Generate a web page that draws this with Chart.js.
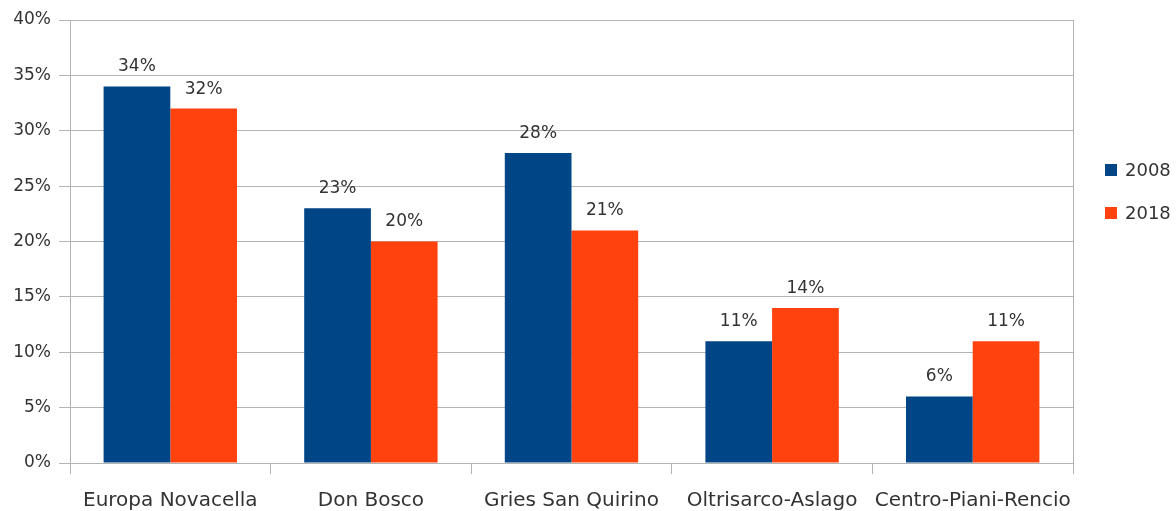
<!DOCTYPE html>
<html>
<head>
<meta charset="utf-8">
<script src="https://cdn.jsdelivr.net/npm/chart.js@4/dist/chart.umd.min.js"></script>
<style>
  html, body { margin: 0; padding: 0; background: #fff; }
  #wrap { width: 1176px; height: 511px; }
</style>
</head>
<body>
<div id="wrap"><canvas id="c" width="1176" height="511"></canvas></div>
<script>
const categories = ["Europa Novacella", "Don Bosco", "Gries San Quirino", "Oltrisarco-Aslago", "Centro-Piani-Rencio"];
const values2008 = [34, 23, 28, 11, 6];
const values2018 = [32, 20, 21, 14, 11];
const seriesNames = ["2008", "2018"];
const yTicks = [0, 5, 10, 15, 20, 25, 30, 35, 40];

const FONT = "'DejaVu Sans', sans-serif";
const TEXT = '#333333';
const GRID = '#b3b3b3';
const colors = ['#004586', '#ff420e'];

const labelPlugin = {
  id: 'valueLabels',
  afterDatasetsDraw(chart) {
    const ctx = chart.ctx;
    ctx.save();
    ctx.font = '17px ' + FONT;
    ctx.fillStyle = TEXT;
    ctx.textAlign = 'center';
    ctx.textBaseline = 'bottom';
    chart.data.datasets.forEach((ds, i) => {
      const meta = chart.getDatasetMeta(i);
      meta.data.forEach((bar, j) => {
        ctx.fillText(ds.data[j] + '%', bar.x, bar.y - 11);
      });
    });
    ctx.restore();
  }
};

const framePlugin = {
  id: 'frame',
  afterDraw(chart) {
    const ctx = chart.ctx, a = chart.chartArea;
    ctx.save();
    ctx.strokeStyle = GRID;
    ctx.lineWidth = 1;
    ctx.beginPath();
    ctx.moveTo(Math.round(a.right) + 0.5, a.top);
    ctx.lineTo(Math.round(a.right) + 0.5, a.bottom + 11);
    ctx.stroke();
    // legend
    ctx.font = '18px ' + FONT;
    ctx.textAlign = 'left';
    ctx.textBaseline = 'middle';
    const ys = [170, 213];
    seriesNames.forEach((n, i) => {
      ctx.fillStyle = colors[i];
      ctx.fillRect(1105, ys[i] - 6, 12, 12);
      ctx.fillStyle = TEXT;
      ctx.fillText(n, 1125, ys[i] + 1);
    });
    ctx.restore();
  }
};

new Chart(document.getElementById('c'), {
  type: 'bar',
  data: {
    labels: categories,
    datasets: [
      { label: seriesNames[0], data: values2008, backgroundColor: colors[0] },
      { label: seriesNames[1], data: values2018, backgroundColor: colors[1] }
    ]
  },
  options: {
    responsive: false,
    animation: false,
    devicePixelRatio: 1,
    layout: { padding: { top: 20, right: 103, left: 0, bottom: 0 } },
    plugins: { legend: { display: false }, tooltip: { enabled: false } },
    datasets: { bar: { categoryPercentage: 0.665, barPercentage: 1 } },
    scales: {
      x: {
        afterFit(s) { s.height = 48; },
        grid: { drawOnChartArea: false, tickLength: 11, color: GRID, tickColor: GRID, offset: true },
        border: { color: GRID },
        ticks: { color: TEXT, font: { family: FONT, size: 20 }, padding: 15, maxRotation: 0, autoSkip: false }
      },
      y: {
        min: 0, max: 40,
        afterFit(s) { s.width = 70; },
        afterBuildTicks(s) { s.ticks = yTicks.map(v => ({ value: v })); },
        grid: { color: GRID, tickLength: 11, tickColor: GRID },
        border: { color: GRID },
        ticks: { color: TEXT, font: { family: FONT, size: 17 }, padding: 8, callback: v => v + '%' }
      }
    }
  },
  plugins: [labelPlugin, framePlugin]
});
</script>
</body>
</html>
